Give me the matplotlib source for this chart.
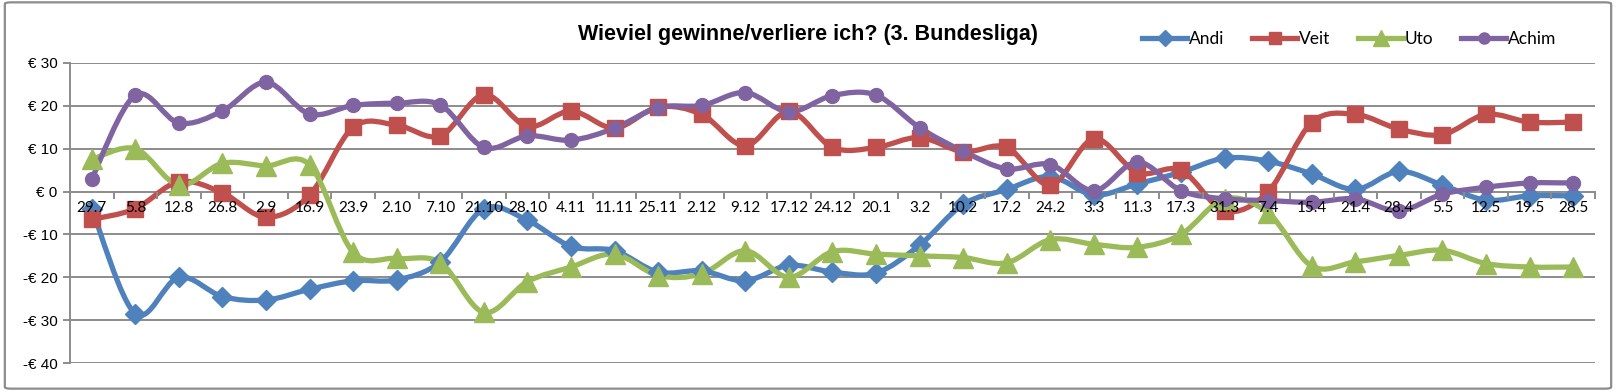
"""Weekly win/loss per player, 3. Bundesliga betting round."""
import matplotlib
matplotlib.use("Agg")
import matplotlib.pyplot as plt
import numpy as np
from matplotlib.lines import Line2D
from matplotlib.patches import FancyBboxPatch, PathPatch
from matplotlib.path import Path

dates = ["29.7", "5.8", "12.8", "26.8", "2.9", "16.9", "23.9", "2.10", "7.10",
         "21.10", "28.10", "4.11", "11.11", "25.11", "2.12", "9.12", "17.12",
         "24.12", "20.1", "3.2", "10.2", "17.2", "24.2", "3.3", "11.3", "17.3",
         "31.3", "7.4", "15.4", "21.4", "28.4", "5.5", "12.5", "19.5", "28.5"]

andi = [-4, -28.5, -20, -24.5, -25.3, -22.8, -20.8, -20.6, -16.4, -4, -6.7,
        -12.8, -13.8, -18.8, -18.5, -20.8, -17.2, -18.8, -19, -12.5, -3, 0.5,
        3.5, -0.8, 1.8, 4.5, 7.8, 7.1, 4.1, 0.5, 4.7, 1.5, -2, -1, -1]
veit = [-6.5, -4, 2.3, -0.3, -6, -0.8, 15, 15.5, 13, 22.6, 15.2, 18.8, 14.8,
        19.7, 18, 10.7, 18.7, 10.3, 10.3, 12.6, 9.3, 10.3, 1.5, 12.3, 4.4, 5,
        -4.5, 0, 16.1, 18, 14.6, 13.3, 18, 16.2, 16.2]
uto = [7.5, 10, 1.5, 6.6, 6, 6.2, -14.2, -15.6, -16.6, -28.2, -21, -17.6,
       -14.6, -19.6, -19.2, -13.8, -20, -14, -14.6, -15, -15.4, -16.6, -11.2,
       -12.3, -13, -10, -1.7, -5, -17.4, -16.4, -14.9, -13.7, -16.8, -17.6,
       -17.6]
achim = [3, 22.5, 16, 18.8, 25.5, 18.1, 20.1, 20.6, 20.2, 10.3, 13, 12, 14.8,
         19.6, 20.1, 23.1, 18.6, 22.4, 22.5, 14.9, 9.4, 5.3, 6.3, 0.2, 6.9, 0.2,
         -1.7, -2.1, -2.5, -1.7, -4.5, -0.6, 1, 2, 2]

series = [
    ("Andi", andi, "#4F81BD", "D", 10.5),
    ("Veit", veit, "#C0504D", "s", 11.5),
    ("Uto", uto, "#9BBB59", "^", 14),
    ("Achim", achim, "#8064A2", "o", 10),
]


def smooth_path(x, y):
    # Catmull-Rom -> cubic Bezier, like Excel's "smoothed line"
    pts = np.column_stack([x, y]).astype(float)
    ext = np.vstack([pts[0], pts, pts[-1]])
    verts = [pts[0]]
    codes = [Path.MOVETO]
    for i in range(len(pts) - 1):
        p0, p1, p2, p3 = ext[i], ext[i + 1], ext[i + 2], ext[i + 3]
        verts += [p1 + (p2 - p0) / 6, p2 - (p3 - p1) / 6, p2]
        codes += [Path.CURVE4] * 3
    return Path(verts, codes)


fig = plt.figure(figsize=(16.16, 3.91), dpi=100)
ax = fig.add_axes([0.0433, 0.0716, 0.9437, 0.7673])

x = np.arange(len(dates))
for name, vals, color, mk, ms in series:
    ax.add_patch(PathPatch(smooth_path(x, vals), fill=False, edgecolor=color,
                           lw=3.8, capstyle="round", joinstyle="round",
                           zorder=2))
    ax.plot(x, vals, ls="none", marker=mk, ms=ms, color=color, mec=color,
            zorder=3)

ax.set_xlim(-0.5, len(dates) - 0.5)
ax.set_ylim(-40, 30)
grid_c = "#8c8c8c"
for v in range(-40, 31, 10):
    if v != 0:
        ax.axhline(v, color=grid_c, lw=1.4, zorder=1)

for s in ["top", "right"]:
    ax.spines[s].set_visible(False)
ax.spines["bottom"].set_position(("data", 0))
ax.spines["bottom"].set_color(grid_c)
ax.spines["bottom"].set_linewidth(1.4)
ax.spines["bottom"].set_zorder(1)
ax.spines["left"].set_color(grid_c)
ax.spines["left"].set_linewidth(1.4)

ax.set_yticks(range(-40, 31, 10))
ax.set_yticklabels([f"€ {v}" if v >= 0 else f"-€ {-v}" for v in range(-40, 31, 10)],
                   family=["Liberation Sans Narrow", "Liberation Sans"], fontsize=11)
ax.tick_params(axis="y", length=5, width=1.4, color=grid_c, pad=4)

ax.set_xticks(x)
ax.set_xticklabels(dates, family="Lato", fontsize=11)
ax.set_xticks(np.arange(len(dates) + 1) - 0.5, minor=True)
ax.tick_params(axis="x", which="major", length=0, pad=7)
ax.tick_params(axis="x", which="minor", length=5, width=1.4, color=grid_c)
ax.xaxis.set_zorder(5)

fig.text(0.5, 0.913, "Wieviel gewinne/verliere ich? (3. Bundesliga)",
         ha="center", va="center", fontsize=15.5, fontweight="bold",
         family=["Liberation Sans Narrow", "Liberation Sans"])

handles = [Line2D([], [], color=c, lw=3.8, marker=mk, ms=ms * 0.8, mec=c)
           for _, _, c, mk, ms in series]
fig.legend(handles, [s[0] for s in series], loc="center", ncol=4,
           bbox_to_anchor=(0.835, 0.9), frameon=False,
           prop={"family": "Lato", "size": 12.5}, handlelength=2.6,
           handletextpad=0.1, columnspacing=1.6)

fig.patches.append(FancyBboxPatch((0.003, 0.006), 0.994, 0.988,
                                  boxstyle="round,pad=0,rounding_size=0.004",
                                  transform=fig.transFigure, fill=False,
                                  edgecolor="#8c8c8c", lw=1.6))

fig.savefig("out.png", dpi=100)
plt.close(fig)
